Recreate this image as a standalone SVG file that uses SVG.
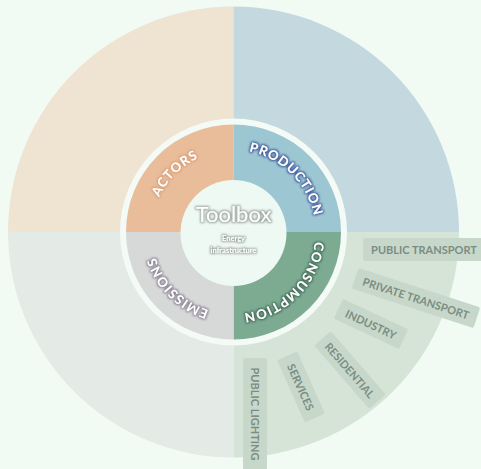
<svg xmlns="http://www.w3.org/2000/svg" xmlns:xlink="http://www.w3.org/1999/xlink" width="481" height="469" viewBox="0 0 481 469">
  <defs>
    <style>
      .ring-label { font-family: Lato, "Open Sans", sans-serif; font-weight: 700; font-size: 13px; letter-spacing: 1px; fill: #ffffff; }
      .tag rect { fill: #c7d8ca; }
      .tag text { font-family: Lato, "Open Sans", sans-serif; font-weight: 700; font-size: 11px; fill: #7b8d83; text-anchor: middle; dominant-baseline: central; }
      .title { font-family: Lato, "Open Sans", sans-serif; font-size: 22px; fill: #ffffff; text-anchor: middle; }
      .subtitle { font-family: Lato, "Open Sans", sans-serif; font-weight: 700; font-size: 7.5px; fill: #ffffff; text-anchor: middle; }
    </style>
    <!-- coloured halo behind white lettering -->
    <filter id="glow-orange" x="-20%" y="-30%" width="140%" height="160%">
      <feMorphology in="SourceAlpha" operator="dilate" radius="0.7" result="d"/>
      <feGaussianBlur in="d" stdDeviation="0.9" result="b"/>
      <feFlood flood-color="#d9a27a"/>
      <feComposite in2="b" operator="in" result="g"/>
      <feMerge><feMergeNode in="g"/><feMergeNode in="SourceGraphic"/></feMerge>
    </filter>
    <filter id="glow-blue" x="-20%" y="-30%" width="140%" height="160%">
      <feMorphology in="SourceAlpha" operator="dilate" radius="0.8" result="d"/>
      <feGaussianBlur in="d" stdDeviation="0.9" result="b"/>
      <feFlood flood-color="#3c5a9e"/>
      <feComposite in2="b" operator="in" result="g"/>
      <feMerge><feMergeNode in="g"/><feMergeNode in="SourceGraphic"/></feMerge>
    </filter>
    <filter id="glow-green" x="-20%" y="-30%" width="140%" height="160%">
      <feMorphology in="SourceAlpha" operator="dilate" radius="0.8" result="d"/>
      <feGaussianBlur in="d" stdDeviation="0.9" result="b"/>
      <feFlood flood-color="#3f6b56"/>
      <feComposite in2="b" operator="in" result="g"/>
      <feMerge><feMergeNode in="g"/><feMergeNode in="SourceGraphic"/></feMerge>
    </filter>
    <filter id="glow-mauve" x="-20%" y="-30%" width="140%" height="160%">
      <feMorphology in="SourceAlpha" operator="dilate" radius="0.8" result="d"/>
      <feGaussianBlur in="d" stdDeviation="0.9" result="b"/>
      <feFlood flood-color="#8d8496"/>
      <feComposite in2="b" operator="in" result="g"/>
      <feMerge><feMergeNode in="g"/><feMergeNode in="SourceGraphic"/></feMerge>
    </filter>
    <filter id="glow-grey" x="-20%" y="-30%" width="140%" height="160%">
      <feMorphology in="SourceAlpha" operator="dilate" radius="0.6" result="d"/>
      <feGaussianBlur in="d" stdDeviation="1" result="b"/>
      <feFlood flood-color="#9aa69f"/>
      <feComposite in2="b" operator="in" result="g"/>
      <feMerge><feMergeNode in="g"/><feMergeNode in="SourceGraphic"/></feMerge>
    </filter>
    <!-- clockwise circle used as the baseline of the ring labels -->
    <path id="ring-path" d="M151.5,232 A82,82 0 1 1 315.5,232 A82,82 0 1 1 151.5,232"/>
  </defs>

  <rect width="481" height="469" fill="#f1fbf4"/>

  <!-- outer sectors -->
  <g id="outer-sectors">
    <path d="M233.5,232 L8,232 A225.5,225.5 0 0 1 233.5,6.5 Z" fill="#efe3d1"/>
    <path d="M233.5,232 L233.5,6.5 A225.5,225.5 0 0 1 459,232 Z" fill="#c3d9df"/>
    <path d="M233.5,232 L459,232 A225.5,225.5 0 0 1 233.5,457.5 Z" fill="#d6e4d8"/>
    <path d="M233.5,232 L233.5,457.5 A225.5,225.5 0 0 1 8,232 Z" fill="#e4eae5"/>
  </g>

  <!-- separating ring -->
  <circle cx="233.5" cy="232" r="113.5" fill="#f4fbf6"/>

  <g id="actors">
    <path d="M233.5,232 L126,232 A107.5,107.5 0 0 1 233.5,124.5 Z" fill="#e9bc9a"/>
    <text class="ring-label" filter="url(#glow-orange)"><textPath href="#ring-path" startOffset="12.5%" text-anchor="middle">ACTORS</textPath></text>
  </g>
  <g id="production">
    <path d="M233.5,232 L233.5,124.5 A107.5,107.5 0 0 1 341,232 Z" fill="#9dc6d3"/>
    <text class="ring-label" filter="url(#glow-blue)"><textPath href="#ring-path" startOffset="37.5%" text-anchor="middle">PRODUCTION</textPath></text>
  </g>
  <g id="consumption">
    <path d="M233.5,232 L341,232 A107.5,107.5 0 0 1 233.5,339.5 Z" fill="#7cab92"/>
    <text class="ring-label" filter="url(#glow-green)"><textPath href="#ring-path" startOffset="62.5%" text-anchor="middle">CONSUMPTION</textPath></text>
  </g>
  <g id="emissions">
    <path d="M233.5,232 L233.5,339.5 A107.5,107.5 0 0 1 126,232 Z" fill="#d7d9d8"/>
    <text class="ring-label" filter="url(#glow-mauve)"><textPath href="#ring-path" startOffset="87.5%" text-anchor="middle">EMISSIONS</textPath></text>
  </g>

  <g id="toolbox">
    <circle cx="233.5" cy="233" r="53" fill="#eff9f3"/>
    <text class="title" x="233.5" y="222" filter="url(#glow-grey)">Toolbox</text>
    <text class="subtitle" x="233.5" y="241" filter="url(#glow-grey)">Energy</text>
    <text class="subtitle" x="233.5" y="253" filter="url(#glow-grey)">infrastructure</text>
  </g>

  <!-- consumption sectors -->
  <g id="public-transport" class="tag" transform="translate(424,249.5)">
    <rect x="-61" y="-11.5" width="122" height="23" rx="2"/>
    <text x="0" y="0">PUBLIC TRANSPORT</text>
  </g>
  <g id="private-transport" class="tag" transform="translate(416,298) rotate(18)">
    <rect x="-64" y="-11" width="128" height="22" rx="2"/>
    <text x="0" y="0">PRIVATE TRANSPORT</text>
  </g>
  <g id="industry" class="tag" transform="translate(371,324) rotate(25)">
    <rect x="-36" y="-11" width="72" height="22" rx="2"/>
    <text x="0" y="0">INDUSTRY</text>
  </g>
  <g id="residential" class="tag" transform="translate(350,370) rotate(49)">
    <rect x="-42" y="-11" width="84" height="22" rx="2"/>
    <text x="0" y="0">RESIDENTIAL</text>
  </g>
  <g id="services" class="tag" transform="translate(301,387) rotate(66)">
    <rect x="-34" y="-11" width="68" height="22" rx="2"/>
    <text x="0" y="0">SERVICES</text>
  </g>
  <g id="public-lighting" class="tag" transform="translate(255,414) rotate(90)">
    <rect x="-56" y="-12" width="112" height="24" rx="2"/>
    <text x="0" y="0">PUBLIC LIGHTING</text>
  </g>
</svg>
